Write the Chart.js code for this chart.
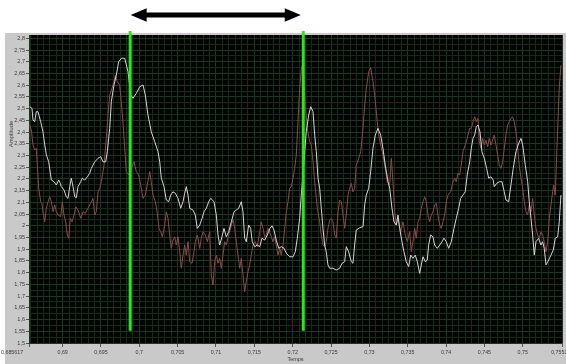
<!DOCTYPE html>
<html>
<head>
<meta charset="utf-8">
<script src="https://cdn.jsdelivr.net/npm/chart.js@4/dist/chart.umd.min.js"></script>
<style>
  html, body { margin: 0; padding: 0; background: #ffffff; overflow: hidden; }
  #wrap { position: relative; width: 566px; height: 364px; }
</style>
</head>
<body>
<div id="wrap"><canvas id="scope" width="566" height="364"></canvas></div>
<script>
// Signal 1 (white trace): time (s) and amplitude
const timeA = [
  0.68571,0.68601,0.68614,0.68636,0.68657,0.68679,0.68714,0.68744,0.68767,0.68788,
  0.68819,0.68853,0.68888,0.68918,0.68949,0.6897,0.68983,0.69018,0.69048,0.6907,
  0.69093,0.69113,0.69136,0.69158,0.69179,0.69201,0.69236,0.69257,0.69288,0.69322,
  0.69353,0.69374,0.69419,0.69462,0.69497,0.69527,0.69562,0.69583,0.69614,0.69635,
  0.6967,0.697,0.69731,0.69768,0.6981,0.69853,0.69888,0.69918,0.69961,0.70005,
  0.70048,0.70078,0.70113,0.70156,0.70201,0.70244,0.70266,0.70287,0.70322,0.70352,
  0.70383,0.70409,0.70439,0.70469,0.70505,0.7054,0.7057,0.70592,0.70613,0.70635,
  0.70657,0.707,0.7073,0.70756,0.70788,0.70818,0.70844,0.70874,0.70905,0.70931,
  0.70974,0.71004,0.71026,0.71048,0.71078,0.71104,0.71134,0.71166,0.712,0.71235,
  0.71265,0.71296,0.7133,0.71352,0.71374,0.71395,0.71426,0.71452,0.71473,0.71505,
  0.71539,0.7157,0.716,0.71635,0.71669,0.71704,0.7173,0.71756,0.71786,0.71818,
  0.71851,0.71887,0.71917,0.71961,0.72004,0.72034,0.7206,0.72091,0.72112,0.72147,
  0.72177,0.72209,0.72235,0.72265,0.72287,0.72308,0.7233,0.72352,0.72373,0.72395,
  0.72417,0.72438,0.7246,0.72482,0.72525,0.72568,0.72613,0.72643,0.72678,0.72699,
  0.7273,0.72764,0.72786,0.72808,0.72829,0.72874,0.72917,0.72939,0.7296,0.72991,
  0.73017,0.73047,0.73077,0.73112,0.73147,0.73177,0.73207,0.73243,0.73265,0.73295,
  0.73321,0.73351,0.73373,0.73395,0.73425,0.73451,0.73481,0.73512,0.73539,0.73568,
  0.73598,0.73625,0.73656,0.73677,0.73699,0.73729,0.73755,0.73773,0.73799,0.73829,
  0.73851,0.73885,0.73917,0.73947,0.73973,0.74003,0.74034,0.74068,0.74103,0.74133,
  0.74164,0.7419,0.7422,0.7425,0.74276,0.74308,0.74329,0.74351,0.74373,0.74394,
  0.74416,0.74442,0.74468,0.74498,0.74529,0.74555,0.74585,0.74615,0.74628,0.7466,
  0.74694,0.74729,0.74759,0.74781,0.74816,0.74846,0.74876,0.74911,0.74947,0.74977,
  0.74999,0.75033,0.75064,0.75085,0.75107,0.75129,0.7515,0.75172,0.75207,0.75237,
  0.75259,0.7528,0.75303,0.75338,0.75368,0.75398,0.75424,0.75455,0.75476,0.75498
];
const ampA = [
  2.508,2.501,2.451,2.444,2.487,2.487,2.444,2.401,2.345,2.302,
  2.273,2.195,2.188,2.174,2.195,2.181,2.167,2.153,2.124,2.117,
  2.167,2.203,2.167,2.124,2.120,2.167,2.188,2.203,2.195,2.209,
  2.224,2.245,2.273,2.288,2.295,2.273,2.273,2.316,2.416,2.529,
  2.601,2.643,2.700,2.715,2.715,2.657,2.558,2.544,2.565,2.593,
  2.601,2.558,2.473,2.401,2.359,2.316,2.273,2.203,2.167,2.110,
  2.103,2.131,2.145,2.139,2.117,2.075,2.103,2.139,2.167,2.131,
  2.075,2.067,2.046,1.989,2.003,2.032,2.060,2.075,2.103,2.117,
  2.103,2.046,1.961,1.918,1.953,1.989,1.953,1.975,2.017,2.060,
  2.067,2.075,2.103,2.060,1.947,1.932,2.003,1.989,1.932,1.911,
  1.918,1.911,1.947,1.939,1.961,1.989,2.000,1.982,1.939,1.904,
  1.911,1.904,1.883,1.868,1.868,1.889,1.947,2.032,2.131,2.273,
  2.401,2.473,2.508,2.487,2.387,2.316,2.203,2.160,2.075,1.989,
  1.918,1.889,1.833,1.819,1.819,1.811,1.819,1.840,1.847,1.911,
  1.889,1.847,1.840,1.918,1.982,1.992,1.996,2.089,2.131,2.160,
  2.231,2.331,2.387,2.416,2.387,2.331,2.259,2.188,2.160,2.075,
  2.017,2.003,2.046,1.989,1.932,1.889,1.847,1.826,1.875,1.861,
  1.875,1.847,1.797,1.833,1.868,1.847,1.854,1.918,1.961,1.953,
  1.918,1.904,1.918,1.932,1.947,1.932,1.904,1.932,1.989,2.032,
  2.075,2.117,2.131,2.145,2.217,2.273,2.331,2.373,2.387,2.423,
  2.430,2.401,2.316,2.288,2.245,2.203,2.209,2.195,2.167,2.181,
  2.188,2.188,2.145,2.110,2.103,2.174,2.245,2.316,2.352,2.373,
  2.345,2.259,2.188,2.103,2.032,1.961,1.875,1.932,1.947,1.918,
  1.932,1.904,1.833,1.854,1.875,1.897,1.947,1.953,2.017,2.131
];

// Signal 2 (red trace): time (s) and amplitude
const timeB = [
  0.68571,0.68592,0.68614,0.68636,0.68657,0.6867,0.68688,0.68714,0.68731,0.68744,
  0.68767,0.68788,0.6881,0.68832,0.68853,0.68875,0.68897,0.68918,0.6894,0.68975,
  0.68996,0.69018,0.6904,0.69061,0.6908,0.691,0.69123,0.69149,0.69171,0.69201,
  0.69236,0.69266,0.69296,0.69331,0.69366,0.69396,0.69419,0.69439,0.69462,0.69484,
  0.69505,0.6954,0.6957,0.69592,0.69614,0.69644,0.6967,0.69687,0.69713,0.69744,
  0.69757,0.69787,0.6981,0.6983,0.69862,0.69896,0.69931,0.69961,0.69992,0.70018,
  0.70048,0.70078,0.70104,0.70136,0.70156,0.70179,0.70209,0.70235,0.70257,0.70279,
  0.703,0.70331,0.70352,0.70374,0.70396,0.70417,0.70439,0.70462,0.70482,0.70505,
  0.70527,0.70548,0.7057,0.70592,0.70613,0.70635,0.70657,0.70687,0.70713,0.7073,
  0.70756,0.70788,0.70808,0.70831,0.70861,0.70887,0.70918,0.70939,0.70961,0.70983,
  0.71004,0.71026,0.71048,0.71069,0.71091,0.71113,0.71134,0.71166,0.712,0.71222,
  0.71244,0.71265,0.71287,0.71309,0.7133,0.71352,0.71374,0.71395,0.71417,0.71439,
  0.7146,0.71482,0.71512,0.71539,0.7157,0.71591,0.71613,0.71635,0.71656,0.71678,
  0.71713,0.71743,0.71765,0.71786,0.71808,0.71831,0.71851,0.71874,0.71896,0.71917,
  0.71939,0.71961,0.71982,0.72004,0.72026,0.72047,0.72069,0.72091,0.72112,0.72134,
  0.72164,0.7219,0.72222,0.72243,0.72265,0.72295,0.72321,0.72352,0.72373,0.72395,
  0.72417,0.72438,0.7246,0.72482,0.72503,0.72525,0.72548,0.72568,0.72591,0.72613,
  0.72634,0.72656,0.72678,0.72699,0.72721,0.72743,0.72764,0.72786,0.72808,0.72829,
  0.72861,0.72887,0.72917,0.72939,0.7296,0.72991,0.73017,0.73047,0.73069,0.73103,
  0.73121,0.73147,0.73177,0.73207,0.73233,0.73265,0.73286,0.73308,0.7333,0.73351,
  0.73373,0.73408,0.73438,0.73468,0.73494,0.73525,0.73546,0.73568,0.73591,0.73611,
  0.73634,0.73656,0.73677,0.73699,0.73721,0.73742,0.73764,0.73786,0.73807,0.73829,
  0.73851,0.73872,0.73894,0.73917,0.73937,0.7396,0.73982,0.74003,0.74025,0.7406,
  0.7409,0.74112,0.74133,0.74155,0.74177,0.74198,0.7422,0.7425,0.74276,0.74308,
  0.74329,0.74351,0.74373,0.74394,0.74416,0.74433,0.74455,0.74477,0.74498,0.7452,
  0.74542,0.74563,0.74585,0.74608,0.74628,0.74651,0.74673,0.74694,0.74716,0.74738,
  0.74759,0.74781,0.74803,0.74824,0.74846,0.74868,0.74889,0.74911,0.74934,0.74954,
  0.74977,0.74999,0.7502,0.75042,0.75064,0.75085,0.75107,0.75129,0.7515,0.75172,
  0.75194,0.75215,0.75237,0.75259,0.7528,0.75303,0.75325,0.75346,0.75368,0.7539,
  0.75403,0.75424,0.75442,0.75459,0.75476,0.75498
];
const ampB = [
  2.430,2.409,2.345,2.323,2.331,2.259,2.160,2.103,2.096,2.060,
  2.017,2.075,2.103,2.124,2.103,2.060,2.089,2.060,2.046,2.039,
  2.103,2.046,2.017,1.961,1.947,2.032,2.017,2.046,2.081,2.067,
  2.032,2.060,2.053,2.075,2.096,2.117,2.046,2.060,2.145,2.160,
  2.188,2.259,2.373,2.473,2.558,2.587,2.615,2.643,2.615,2.601,
  2.558,2.444,2.331,2.231,2.217,2.245,2.273,2.231,2.217,2.174,
  2.117,2.131,2.174,2.231,2.188,2.131,2.103,2.053,1.989,1.975,
  1.953,2.003,2.060,2.032,1.961,1.904,1.939,1.953,1.918,1.953,
  1.889,1.819,1.875,1.918,1.875,1.932,1.847,1.840,1.889,1.932,
  1.961,1.904,1.947,1.975,1.961,1.932,1.975,1.790,1.747,1.847,
  1.875,1.840,1.861,1.819,1.875,1.932,1.918,1.961,2.003,2.025,
  1.989,1.932,1.875,1.819,1.861,1.790,1.719,1.762,1.804,1.833,
  1.875,1.918,1.932,1.911,1.975,2.017,1.989,1.953,1.961,1.989,
  1.961,1.932,1.953,1.918,1.875,1.904,1.875,1.918,1.989,2.060,
  2.103,2.160,2.167,2.203,2.245,2.302,2.444,2.587,2.665,2.699,
  2.515,2.416,2.359,2.345,2.273,2.160,2.075,2.017,1.961,1.918,
  1.911,1.932,1.989,2.025,2.032,2.017,1.961,1.947,2.060,2.110,
  2.103,2.046,1.989,2.046,2.131,2.160,2.181,2.145,2.160,2.259,
  2.288,2.316,2.416,2.515,2.587,2.657,2.674,2.615,2.558,2.444,
  2.387,2.345,2.302,2.245,2.188,2.174,2.288,2.188,2.060,2.003,
  2.032,1.975,2.017,1.961,1.932,1.975,1.889,1.932,1.989,1.947,
  2.017,2.032,2.075,2.103,2.124,2.103,2.046,2.017,2.046,2.060,
  2.089,2.096,2.046,2.003,1.989,2.017,2.046,2.103,2.131,2.145,
  2.188,2.203,2.188,2.224,2.217,2.259,2.316,2.345,2.373,2.416,
  2.416,2.444,2.465,2.444,2.459,2.359,2.331,2.373,2.345,2.366,
  2.337,2.373,2.345,2.366,2.387,2.345,2.302,2.259,2.245,2.273,
  2.331,2.387,2.430,2.444,2.459,2.465,2.444,2.401,2.331,2.259,
  2.203,2.160,2.103,2.060,2.046,2.089,2.060,2.117,2.046,1.989,
  1.961,1.947,1.975,1.961,1.932,1.889,1.932,2.032,2.089,2.145,
  2.174,2.131,2.302,2.444,2.587,2.686
];

// Axis ticks and labels
const xMajorTicks = [0.685617, 0.69, 0.695, 0.7, 0.705, 0.71, 0.715, 0.72, 0.725, 0.73, 0.735, 0.74, 0.745, 0.75, 0.755117];
const xTickLabels = ['0,685617', '0,69', '0,695', '0,7', '0,705', '0,71', '0,715', '0,72', '0,725', '0,73', '0,735', '0,74', '0,745', '0,75', '0,755117'];
const yMajorTicks = [1.5, 1.55, 1.6, 1.65, 1.7, 1.75, 1.8, 1.85, 1.9, 1.95, 2, 2.05, 2.1, 2.15, 2.2, 2.25, 2.3, 2.35, 2.4, 2.45, 2.5, 2.55, 2.6, 2.65, 2.7, 2.75, 2.8];
const yTickLabels = ['1,5', '1,55', '1,6', '1,65', '1,7', '1,75', '1,8', '1,85', '1,9', '1,95', '2', '2,05', '2,1', '2,15', '2,2', '2,25', '2,3', '2,35', '2,4', '2,45', '2,5', '2,55', '2,6', '2,65', '2,7', '2,75', '2,8'];

// Cursor positions (s) and their vertical extent (amplitude)
const cursorTimes = [0.69881, 0.72138];
const cursorSpan = [1.552, 2.831];

const X_MIN = 0.685617, X_MAX = 0.755117;
const Y_MIN = 1.5, Y_MAX = 2.814;
const X_SUBDIV = 6;

const near = (a, b) => Math.abs(a - b) < 1e-7;
const xMajorIndex = v => xMajorTicks.findIndex(m => near(m, v));
const yMajorIndex = v => yMajorTicks.findIndex(m => near(m, v));

// Minor grid: subdivide each regular 0.005 interval, plus the two partial ends
function xGridValues() {
  const out = xMajorTicks.slice();
  const regular = xMajorTicks.slice(1, -1);
  const step = (regular[1] - regular[0]) / X_SUBDIV;
  regular.forEach(r => {
    for (let k = -(X_SUBDIV - 1); k <= X_SUBDIV - 1; k++) {
      if (k === 0) continue;
      const v = +(r + k * step).toFixed(7);
      if (v > X_MIN + 1e-6 && v < X_MAX - 1e-6 && !out.some(o => near(o, v))) out.push(v);
    }
  });
  return out.sort((a, b) => a - b);
}
function yGridValues() {
  const out = yMajorTicks.slice();
  for (let i = 0; i < yMajorTicks.length - 1; i++) {
    out.push(+((yMajorTicks[i] + yMajorTicks[i + 1]) / 2).toFixed(4));
  }
  return out.sort((a, b) => a - b);
}

const GRID_MAJOR = '#1f3625';
const GRID_MINOR = '#172a1b';
const TEXT = '#3a3a3a';
const FONT = "'Liberation Sans', Arial, sans-serif";

// Window frame, grey panel and dark plot background
const panelPlugin = {
  id: 'panel',
  beforeDraw(chart) {
    const { ctx, chartArea: a } = chart;
    ctx.save();
    ctx.fillStyle = '#ffffff';
    ctx.fillRect(0, 0, chart.width, chart.height);
    ctx.fillStyle = '#c9c9c9';
    ctx.fillRect(5, 33, chart.width - 5, chart.height - 33);
    ctx.fillStyle = '#020502';
    ctx.fillRect(a.left, a.top, a.right - a.left, a.bottom - a.top);
    ctx.restore();
  }
};

// Vertical axis name and the double arrow spanning the two cursors
const annotatePlugin = {
  id: 'annotate',
  afterDraw(chart) {
    const { ctx } = chart;
    const xs = chart.scales.x;
    ctx.save();
    ctx.fillStyle = TEXT;
    ctx.font = '6px ' + FONT;
    ctx.textAlign = 'center';
    ctx.textBaseline = 'middle';
    ctx.translate(11.5, 134);
    ctx.rotate(-Math.PI / 2);
    ctx.fillText('Amplitude', 0, 0);
    ctx.restore();

    const x1 = xs.getPixelForValue(cursorTimes[0]) + 0.5;
    const x2 = xs.getPixelForValue(cursorTimes[1]) - 2.5;
    const y = 15, head = 16, half = 6.8, shaft = 2.4;
    ctx.save();
    ctx.fillStyle = '#000000';
    ctx.beginPath();
    ctx.moveTo(x1, y);
    ctx.lineTo(x1 + head, y - half);
    ctx.lineTo(x1 + head, y - shaft);
    ctx.lineTo(x2 - head, y - shaft);
    ctx.lineTo(x2 - head, y - half);
    ctx.lineTo(x2, y);
    ctx.lineTo(x2 - head, y + half);
    ctx.lineTo(x2 - head, y + shaft);
    ctx.lineTo(x1 + head, y + shaft);
    ctx.lineTo(x1 + head, y + half);
    ctx.closePath();
    ctx.fill();
    ctx.restore();
  }
};

const pairs = (t, v) => t.map((x, i) => ({ x, y: v[i] }));
const cursorData = t => [{ x: t, y: cursorSpan[0] }, { x: t, y: cursorSpan[1] }];

new Chart(document.getElementById('scope'), {
  type: 'line',
  data: {
    datasets: [
      { label: 'Curseur 1', data: cursorData(cursorTimes[0]), borderColor: '#2de619', borderWidth: 3, pointRadius: 0, clip: false },
      { label: 'Curseur 2', data: cursorData(cursorTimes[1]), borderColor: '#2de619', borderWidth: 3, pointRadius: 0, clip: false },
      { label: 'Signal 1', data: pairs(timeA, ampA), borderColor: '#d6d6d6', borderWidth: 1, pointRadius: 0, tension: 0 },
      { label: 'Signal 2', data: pairs(timeB, ampB), borderColor: '#8c4b49', borderWidth: 1, pointRadius: 0, tension: 0 }
    ]
  },
  options: {
    responsive: false,
    animation: false,
    events: [],
    layout: { padding: { left: 5, top: 35, right: 4, bottom: 0 } },
    plugins: { legend: { display: false }, tooltip: { enabled: false } },
    scales: {
      x: {
        type: 'linear',
        min: X_MIN,
        max: X_MAX,
        afterBuildTicks(scale) { scale.ticks = xGridValues().map(value => ({ value })); },
        afterFit(scale) { scale.height = 21; scale.paddingLeft = 0; scale.paddingRight = 0; },
        border: { display: false },
        grid: {
          color: c => (xMajorIndex(c.tick.value) >= 0 ? GRID_MAJOR : GRID_MINOR),
          tickColor: c => (xMajorIndex(c.tick.value) >= 0 ? '#555555' : 'rgba(0,0,0,0)'),
          lineWidth: 1,
          tickLength: 4
        },
        ticks: {
          autoSkip: false,
          maxRotation: 0,
          minRotation: 0,
          padding: 2,
          color: TEXT,
          font: { family: FONT, size: 5.3 },
          callback(value) {
            const i = xMajorIndex(value);
            if (i < 0) return '';
            return i === 0 ? xTickLabels[i] + ' '.repeat(23) : xTickLabels[i];
          }
        },
        title: { display: true, text: 'Temps', color: TEXT, font: { family: FONT, size: 5.5 }, padding: { top: 0, bottom: 1.5 } }
      },
      y: {
        type: 'linear',
        min: Y_MIN,
        max: Y_MAX,
        afterBuildTicks(scale) { scale.ticks = yGridValues().map(value => ({ value })); },
        afterFit(scale) { scale.width = 24; scale.paddingTop = 0; scale.paddingBottom = 0; },
        border: { display: false },
        grid: {
          color: c => (yMajorIndex(c.tick.value) >= 0 ? GRID_MAJOR : GRID_MINOR),
          tickColor: c => (yMajorIndex(c.tick.value) >= 0 ? '#555555' : 'rgba(0,0,0,0)'),
          lineWidth: 1,
          tickLength: 3
        },
        ticks: {
          autoSkip: false,
          padding: 1,
          color: TEXT,
          font: { family: FONT, size: 5.5 },
          callback(value) {
            const i = yMajorIndex(value);
            return i < 0 ? '' : yTickLabels[i];
          }
        }
      }
    }
  },
  plugins: [panelPlugin, annotatePlugin]
});
</script>
</body>
</html>
